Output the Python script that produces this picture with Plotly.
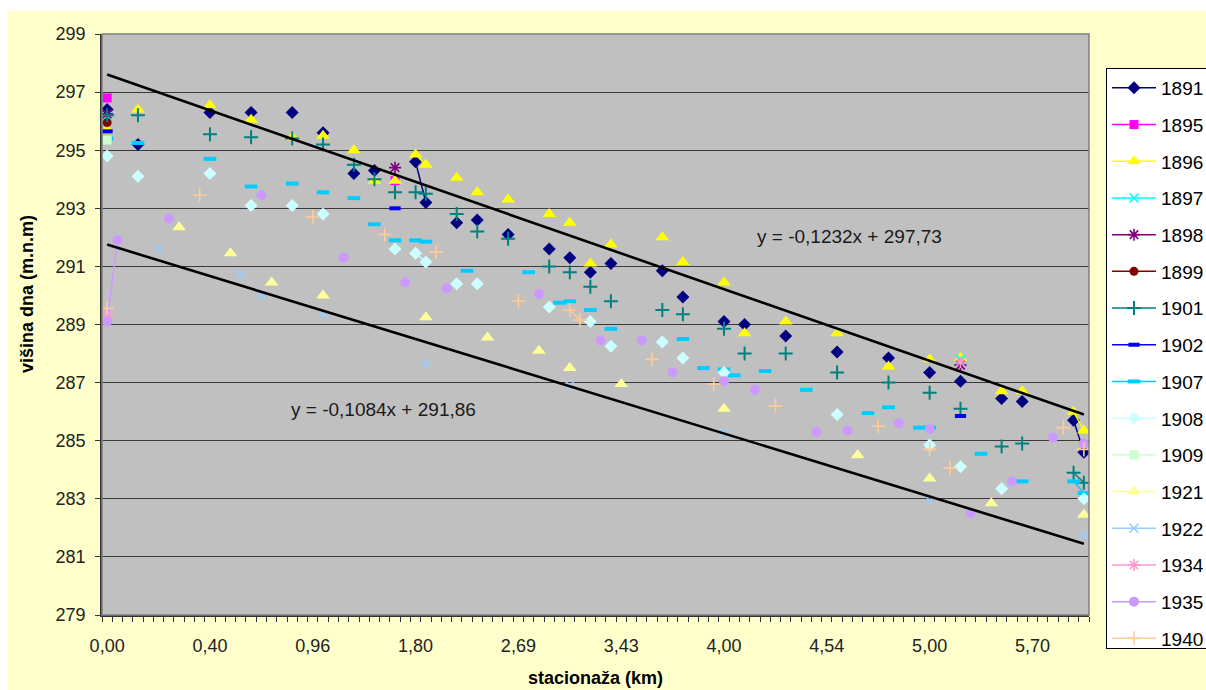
import plotly.graph_objects as go

# ---------------- data (category index 1..96 along the river) ----------------
N_CAT = 96
TICK_POS = [1, 11, 21, 31, 41, 51, 61, 71, 81, 91]
TICK_LABELS = ["0,00", "0,40", "0,96", "1,80", "2,69", "3,43", "4,00", "4,54", "5,00", "5,70"]

YEARS = ["1891", "1895", "1896", "1897", "1898", "1899", "1901", "1902",
         "1907", "1908", "1909", "1921", "1922", "1934", "1935", "1940"]

IDX_1891 = [1, 4, 11, 15, 19, 22, 25, 27, 31, 32, 35, 37, 40, 44, 46, 48, 50, 55, 57, 61, 63, 67, 72, 77, 81, 84, 88, 90, 95, 96]
VAL_1891 = [296.4, 295.2, 296.3, 296.3, 296.3, 295.6, 294.2, 294.3, 294.6, 293.2, 292.5, 292.6, 292.1, 291.6, 291.3, 290.8, 291.1, 290.85, 289.95, 289.1, 289.0, 288.6, 288.05, 287.85, 287.35, 287.05, 286.45, 286.35, 285.7, 284.6]

IDX_1895 = [1, 29]
VAL_1895 = [296.8, 293.95]

IDX_1896 = [1, 4, 11, 15, 19, 22, 25, 27, 29, 31, 32, 35, 37, 40, 44, 46, 48, 50, 55, 57, 61, 63, 67, 72, 77, 81, 84, 88, 90, 95, 96]
VAL_1896 = [295.7, 296.4, 296.55, 296.05, 295.45, 295.5, 295.0, 293.95, 293.95, 294.85, 294.5, 294.05, 293.55, 293.3, 292.8, 292.5, 291.1, 291.75, 292.0, 291.15, 290.45, 288.7, 289.1, 288.7, 287.55, 287.8, 287.85, 286.7, 286.7, 286.0, 285.35]

IDX_1897 = [1, 84]
VAL_1897 = [296.15, 287.8]

IDX_1898 = [1, 29, 84]
VAL_1898 = [296.25, 294.4, 287.6]

IDX_1899 = [1]
VAL_1899 = [295.95]

IDX_1901 = [1, 4, 11, 15, 19, 22, 25, 27, 29, 31, 32, 35, 37, 40, 44, 46, 48, 50, 55, 57, 61, 63, 67, 72, 77, 81, 84, 88, 90, 95, 96]
VAL_1901 = [296.2, 296.2, 295.55, 295.45, 295.4, 295.2, 294.5, 294.0, 293.55, 293.55, 293.5, 292.8, 292.2, 291.95, 291.0, 290.8, 290.3, 289.8, 289.5, 289.35, 288.85, 288.0, 288.0, 287.35, 287.0, 286.65, 286.1, 284.8, 284.9, 283.9, 283.55]

IDX_1902 = [1, 29, 84]
VAL_1902 = [295.65, 293.0, 285.85]

IDX_1907 = [1, 4, 11, 15, 19, 22, 25, 27, 29, 31, 32, 36, 42, 45, 46, 48, 50, 57, 59, 61, 62, 65, 69, 75, 77, 80, 81, 86, 90, 95, 96]
VAL_1907 = [295.4, 295.25, 294.7, 293.75, 293.85, 293.55, 293.35, 292.45, 291.9, 291.9, 291.85, 290.85, 290.8, 289.75, 289.8, 289.5, 288.85, 288.5, 287.5, 287.45, 287.25, 287.4, 286.75, 285.95, 286.15, 285.45, 285.45, 284.55, 283.6, 283.6, 283.2]

IDX_1908 = [1, 4, 11, 15, 19, 22, 29, 31, 32, 35, 37, 44, 48, 50, 55, 57, 61, 72, 81, 84, 88, 96]
VAL_1908 = [294.8, 294.1, 294.2, 293.1, 293.1, 292.8, 291.6, 291.45, 291.15, 290.4, 290.4, 289.6, 289.1, 288.25, 288.4, 287.85, 287.35, 285.9, 284.85, 284.1, 283.35, 283.0]

IDX_1909 = [1]
VAL_1909 = [295.35]

IDX_1921 = [8, 13, 17, 22, 32, 38, 43, 46, 51, 61, 74, 81, 87, 96]
VAL_1921 = [292.35, 291.45, 290.45, 290.0, 289.25, 288.55, 288.1, 287.5, 286.95, 286.1, 284.5, 283.7, 282.85, 282.45]

IDX_1922 = [6, 14, 16, 22, 32, 46, 61, 81, 96]
VAL_1922 = [291.6, 290.7, 290.0, 289.35, 287.65, 286.9, 285.25, 282.95, 281.75]

IDX_1934 = [1, 84]
VAL_1934 = [289.35, 287.7]

IDX_1935 = [1, 2, 7, 16, 24, 30, 34, 43, 49, 53, 56, 61, 64, 70, 73, 78, 81, 85, 89, 93, 96]
VAL_1935 = [289.1, 291.9, 292.65, 293.45, 291.3, 290.45, 290.25, 290.05, 288.45, 288.45, 287.35, 287.05, 286.75, 285.3, 285.35, 285.6, 285.4, 282.5, 283.6, 285.1, 284.9]

IDX_1940 = [1, 10, 21, 28, 33, 41, 46, 47, 54, 60, 66, 76, 81, 83, 94, 96]
VAL_1940 = [289.55, 293.45, 292.7, 292.1, 291.5, 289.8, 289.5, 289.15, 287.8, 286.95, 286.2, 285.5, 284.7, 284.05, 285.45, 284.7]

# linear trend lines (from the chart's equations)
TREND_UPPER = (-0.1232, 297.73)
TREND_LOWER = (-0.1084, 291.86)
TREND_X = [1, 96]

# ---------------- styles ----------------
COLORS = {"1891": "#000080", "1895": "#FF00FF", "1896": "#FFFF00", "1897": "#00FFFF",
          "1898": "#800080", "1899": "#800000", "1901": "#008080", "1902": "#0000FF",
          "1907": "#00CCFF", "1908": "#CCFFFF", "1909": "#CCFFCC", "1921": "#FFFF99",
          "1922": "#99CCFF", "1934": "#FF99CC", "1935": "#CC99FF", "1940": "#FFCC99"}
SYMBOLS = {"1891": ("diamond", 10, 0), "1895": ("square", 9, 0), "1896": ("triangle-up", 12, 0),
           "1897": ("x-thin-open", 9, 1.6), "1898": ("asterisk-open", 10, 1.6), "1899": ("circle", 9, 0),
           "1901": ("cross-thin-open", 10, 2), "1902": ("line-ew-open", 8, 4), "1907": ("line-ew-open", 9, 4),
           "1908": ("diamond", 10, 0), "1909": ("square", 9, 0), "1921": ("triangle-up", 12, 0),
           "1922": ("x-thin-open", 9, 1.6), "1934": ("asterisk-open", 10, 1.6), "1935": ("circle", 10, 0),
           "1940": ("cross-thin-open", 10, 1.6)}

DATA = {y: (globals()["IDX_" + y], globals()["VAL_" + y]) for y in YEARS}

FONT = "Liberation Sans, Arial, sans-serif"

fig = go.Figure()

xs = list(range(1, N_CAT + 1))
for yr in YEARS:
    idx, val = DATA[yr]
    full = [None] * N_CAT
    for i, v in zip(idx, val):
        full[i - 1] = v
    sym, size, lw = SYMBOLS[yr]
    fig.add_trace(go.Scatter(
        x=xs, y=full, name=yr, mode="lines+markers", connectgaps=False,
        legendgroup=yr,
        line=dict(color=COLORS[yr], width=1.5),
        marker=dict(symbol=sym, size=size, color=COLORS[yr],
                    line=dict(width=lw, color=COLORS[yr])),
    ))

for slope, icpt in (TREND_UPPER, TREND_LOWER):
    fig.add_trace(go.Scatter(
        x=TREND_X, y=[slope * x + icpt for x in TREND_X], mode="lines",
        line=dict(color="black", width=2.6), showlegend=False, hoverinfo="skip"))

# ---------------- layout ----------------
W, H = 1206, 690
L, R, T, B = 102, 117, 34, 75
pw, ph = W - L - R, H - T - B

def px_x(p):
    return (p - L) / pw

def px_y(p):
    return (H - B - p) / ph

fig.update_layout(
    width=W, height=H,
    margin=dict(l=L, r=R, t=T, b=B, autoexpand=False),
    paper_bgcolor="#FFFFCC", plot_bgcolor="#C0C0C0",
    font=dict(family=FONT, size=18, color="black"),
    showlegend=True,
    legend=dict(x=px_x(1106), y=px_y(68), xanchor="left", yanchor="top",
                bgcolor="white", bordercolor="black", borderwidth=1,
                font=dict(family=FONT, size=19, color="black"),
                tracegroupgap=9, itemwidth=44, traceorder="grouped"),
    xaxis=dict(range=[0.5, N_CAT + 0.5], tickmode="array", tickvals=TICK_POS, ticktext=TICK_LABELS,
               ticks="", showgrid=False, zeroline=False, showline=True, linecolor="#333333", linewidth=1.5,
               tickfont=dict(family=FONT, size=18, color="#222222"), ticklabelstandoff=14,
               minor=dict(ticks="outside", ticklen=5, tickcolor="#333333", tickwidth=1,
                          tick0=0.5, dtick=1, showgrid=False)),
    yaxis=dict(range=[279, 299], tick0=279, dtick=2, ticks="outside", ticklen=5, tickcolor="#333333",
               showgrid=True, gridcolor="#3a3a3a", gridwidth=1, zeroline=False,
               showline=True, linecolor="#333333", linewidth=1.5,
               tickfont=dict(family=FONT, size=18, color="#222222"), ticklabelstandoff=6),
    shapes=[
        dict(type="rect", xref="paper", yref="paper", x0=0, x1=1, y0=0, y1=1,
             line=dict(color="#808080", width=1.5), fillcolor="rgba(0,0,0,0)", layer="above"),
        dict(type="rect", xref="paper", yref="paper", x0=-0.2, x1=1.3, y0=px_y(11), y1=1.2,
             line=dict(width=0), fillcolor="white", layer="below"),
        dict(type="rect", xref="paper", yref="paper", x0=-0.2, x1=px_x(8), y0=-0.3, y1=1.2,
             line=dict(width=0), fillcolor="white", layer="below"),
    ],
    annotations=[
        dict(text="y = -0,1232x + 297,73", x=64.0, y=292.02, xref="x", yref="y",
             xanchor="left", yanchor="middle", showarrow=False,
             font=dict(family=FONT, size=19, color="#1a1a1a")),
        dict(text="y = -0,1084x + 291,86", x=18.7, y=286.06, xref="x", yref="y",
             xanchor="left", yanchor="middle", showarrow=False,
             font=dict(family=FONT, size=19, color="#1a1a1a")),
        dict(text="<b>višina dna (m.n.m)</b>", x=px_x(27), y=px_y(294), xref="paper", yref="paper",
             textangle=-90, showarrow=False, xanchor="center", yanchor="middle",
             font=dict(family=FONT, size=18, color="black")),
        dict(text="<b>stacionaža (km)</b>", x=0.5, y=px_y(678), xref="paper", yref="paper",
             showarrow=False, xanchor="center", yanchor="middle",
             font=dict(family=FONT, size=18, color="black")),
    ],
)

fig.write_html("out.html")
